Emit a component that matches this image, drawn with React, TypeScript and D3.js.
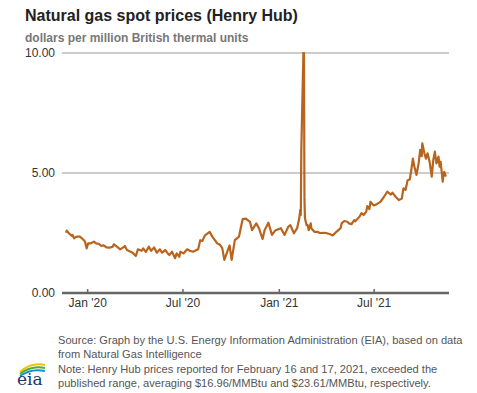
import React from "react";
import * as d3 from "d3";

const dates: string[] = [
  "2019-11-21","2019-11-22","2019-11-26","2019-12-02","2019-12-03","2019-12-06","2019-12-11","2019-12-17","2019-12-23","2019-12-27","2019-12-30",
  "2020-01-02","2020-01-07","2020-01-13","2020-01-17","2020-01-23","2020-01-27","2020-01-31","2020-02-06","2020-02-12","2020-02-18","2020-02-20","2020-02-26",
  "2020-03-03","2020-03-09","2020-03-12","2020-03-16","2020-03-23","2020-03-27","2020-04-02","2020-04-06","2020-04-13","2020-04-16","2020-04-21","2020-04-27",
  "2020-05-01","2020-05-07","2020-05-12","2020-05-18","2020-05-22","2020-05-28","2020-06-02","2020-06-05","2020-06-10","2020-06-16","2020-06-19","2020-06-24","2020-06-26",
  "2020-07-02","2020-07-09","2020-07-14","2020-07-20","2020-07-27","2020-07-30","2020-08-03","2020-08-07","2020-08-12","2020-08-21","2020-08-26","2020-08-31",
  "2020-09-04","2020-09-10","2020-09-14","2020-09-18","2020-09-28","2020-10-02","2020-10-08","2020-10-16","2020-10-23","2020-10-29",
  "2020-11-06","2020-11-10","2020-11-18","2020-11-23","2020-11-30","2020-12-04","2020-12-11","2020-12-18","2020-12-24",
  "2021-01-04","2021-01-11","2021-01-18","2021-01-22","2021-01-29","2021-02-04","2021-02-08","2021-02-10","2021-02-11","2021-02-12","2021-02-16","2021-02-17","2021-02-18","2021-02-19","2021-02-22",
  "2021-02-24","2021-02-26","2021-03-02","2021-03-03","2021-03-09","2021-03-15","2021-03-19","2021-03-29","2021-04-07","2021-04-13","2021-04-20","2021-04-28","2021-04-30",
  "2021-05-05","2021-05-11","2021-05-14","2021-05-19","2021-05-24","2021-05-26","2021-06-03","2021-06-07","2021-06-11","2021-06-16","2021-06-18","2021-06-22","2021-06-24","2021-06-30",
  "2021-07-06","2021-07-13","2021-07-20","2021-07-26","2021-08-02","2021-08-05","2021-08-11","2021-08-17","2021-08-23","2021-08-26","2021-08-30",
  "2021-09-03","2021-09-07","2021-09-10","2021-09-13","2021-09-16","2021-09-20","2021-09-24","2021-09-27","2021-09-30","2021-10-01","2021-10-05","2021-10-08","2021-10-11","2021-10-15","2021-10-19","2021-10-22","2021-10-25","2021-10-28",
  "2021-11-01","2021-11-03","2021-11-05","2021-11-09","2021-11-10","2021-11-12","2021-11-15"
];

const prices: number[] = [
  2.51,2.60,2.49,2.38,2.42,2.28,2.35,2.35,2.24,2.14,1.86,
  2.07,2.07,2.14,2.07,2.04,1.96,1.99,1.90,1.89,1.93,2.03,1.93,
  1.82,1.90,1.96,1.79,1.72,1.68,1.54,1.82,1.76,1.86,1.71,1.93,
  1.76,1.90,1.68,1.82,1.68,1.79,1.65,1.58,1.72,1.45,1.65,1.51,1.72,
  1.65,1.82,1.76,1.72,1.79,1.82,2.20,2.17,2.40,2.55,2.35,2.20,
  2.08,2.00,1.87,1.38,1.98,1.38,2.20,2.35,3.08,3.10,
  2.96,2.62,2.90,2.70,2.25,2.62,2.93,2.42,2.60,
  2.70,2.42,2.76,2.83,2.49,2.70,3.10,3.46,3.25,6.00,16.96,23.61,3.90,3.10,2.83,
  2.83,2.62,2.90,2.70,2.55,2.55,2.50,2.51,2.46,2.40,2.55,2.70,2.90,
  3.00,2.97,2.90,2.87,3.04,2.99,3.18,3.33,3.25,3.39,3.62,3.50,3.80,3.65,
  3.70,3.80,4.01,4.22,4.10,4.18,4.01,3.87,3.94,4.36,4.30,
  4.70,4.73,5.12,5.60,5.26,4.92,5.40,5.96,5.70,6.24,5.82,5.60,5.82,5.47,4.85,5.54,5.89,5.40,
  5.68,5.26,5.47,4.64,4.85,5.05,4.85
];

const yTicks: number[] = [0, 5, 10];
const xTickDates: string[] = ["2020-01-01", "2020-07-01", "2021-01-01", "2021-07-01"];
const xTickLabels: string[] = ["Jan '20", "Jul '20", "Jan '21", "Jul '21"];

const title = "Natural gas spot prices (Henry Hub)";
const subtitle = "dollars per million British thermal units";
const notes: string[] = [
  "Source: Graph by the U.S. Energy Information Administration (EIA), based on data",
  "from Natural Gas Intelligence",
  "Note: Henry Hub prices reported for February 16 and 17, 2021, exceeded the",
  "published range, averaging $16.96/MMBtu and $23.61/MMBtu, respectively.",
];

export default function App() {
  const W = 477, H = 393;
  const left = 62, right = 449, top = 53, bottom = 293;
  const parse = d3.utcParse("%Y-%m-%d");
  const data = dates.map((d, i) => ({ date: parse(d) as Date, value: prices[i] }));
  const x = d3.scaleUtc()
    .domain([parse("2019-11-13") as Date, parse("2021-11-21") as Date])
    .range([left, right]);
  const y = d3.scaleLinear().domain([0, 10]).range([bottom, top]);
  const line = d3.line<{ date: Date; value: number }>()
    .x(d => x(d.date))
    .y(d => y(Math.min(d.value, 10)));
  const font = "Arial, 'Liberation Sans', Helvetica, sans-serif";
  return (
    <svg width={W} height={H} style={{ position: "absolute", left: 0, top: 0, background: "#fff" }} fontFamily={font}>
      <text x={25} y={21} fontSize={16} fontWeight="bold" fill="#222">{title}</text>
      <text x={25} y={42} fontSize={12} fontWeight="bold" fill="#777">{subtitle}</text>
      {yTicks.filter(t => t > 0).map(t => (
        <line key={t} x1={left} x2={right} y1={y(t)} y2={y(t)} stroke="#cccccc" strokeWidth={2} />
      ))}
      {yTicks.map(t => (
        <text key={"l" + t} x={55} y={y(t)} dy="0.35em" textAnchor="end" fontSize={12} fill="#333">{t.toFixed(2)}</text>
      ))}
      <defs>
        <clipPath id="plotclip">
          <rect x={left} y={top - 1} width={right - left} height={bottom - top + 2} />
        </clipPath>
      </defs>
      <path d={line(data) || ""} fill="none" stroke="#b8641c" strokeWidth={2.2} strokeLinejoin="round" clipPath="url(#plotclip)" />
      <line x1={left} x2={right} y1={bottom} y2={bottom} stroke="#666" strokeWidth={2.5} />
      {xTickDates.map((d, i) => {
        const px = x(parse(d) as Date);
        return (
          <g key={d}>
            <line x1={px} x2={px} y1={bottom - 4} y2={bottom} stroke="#666" strokeWidth={1.5} />
            <text x={px} y={307} textAnchor="middle" fontSize={12} fill="#333">{xTickLabels[i]}</text>
          </g>
        );
      })}
      {notes.map((n, i) => (
        <text key={i} x={58} y={344 + i * 14.4} fontSize={11.1} fill="#555">{n}</text>
      ))}
      <g>
        <path d="M20,372 Q31,362 45,365" fill="none" stroke="#f2c400" strokeWidth={2} />
        <path d="M20,374 Q31,365 45,368" fill="none" stroke="#4cae3c" strokeWidth={2} />
        <path d="M20,376 Q31,368 45,371" fill="none" stroke="#1a8fd6" strokeWidth={2} />
        <text x={17} y={385} fontSize={17} fontFamily="'DejaVu Serif', 'Liberation Serif', serif" fill="#1a3a6e">eia</text>
      </g>
    </svg>
  );
}
